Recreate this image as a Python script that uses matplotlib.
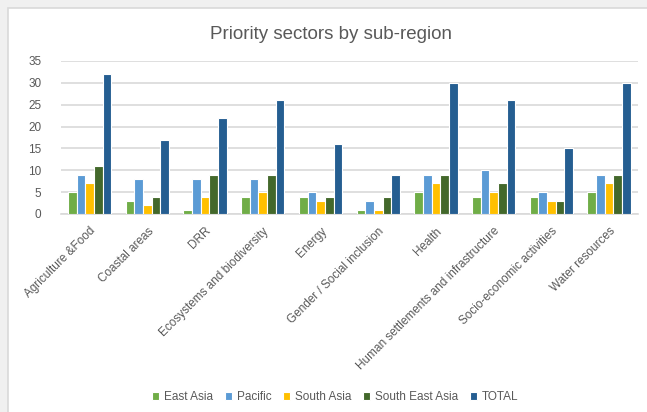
import numpy as np
import matplotlib
matplotlib.use("Agg")
import matplotlib.pyplot as plt
from matplotlib.patches import Rectangle

plt.rcParams["font.family"] = ["Liberation Sans", "DejaVu Sans"]

# Data
sectors = [
    "Agriculture &Food",
    "Coastal areas",
    "DRR",
    "Ecosystems and biodiversity",
    "Energy",
    "Gender / Social inclusion",
    "Health",
    "Human settlements and infrastructure",
    "Socio-economic activities",
    "Water resources",
]
east_asia = [5, 3, 1, 4, 4, 1, 5, 4, 4, 5]
pacific = [9, 8, 8, 8, 5, 3, 9, 10, 5, 9]
south_asia = [7, 2, 4, 5, 3, 1, 7, 5, 3, 7]
south_east_asia = [11, 4, 9, 9, 4, 4, 9, 7, 3, 9]
total = [32, 17, 22, 26, 16, 9, 30, 26, 15, 30]

series_names = ["East Asia", "Pacific", "South Asia", "South East Asia", "TOTAL"]
series_values = [east_asia, pacific, south_asia, south_east_asia, total]
colors = ["#70AD47", "#5B9BD5", "#FFC000", "#43682B", "#255E91"]

text_col = "#595959"

fig = plt.figure(figsize=(6.47, 4.12), dpi=100)
fig.patch.set_facecolor("#f0f0f0")
# white card behind everything
bg = fig.add_axes([0, 0, 1, 1], zorder=-5)
bg.set_xlim(0, 647)
bg.set_ylim(412, 0)
bg.axis("off")
bg.add_patch(Rectangle((8, 8), 660, 420, facecolor="white", edgecolor="#d9d9d9", linewidth=1.2))

ax = fig.add_axes([0.094, 0.4806, 0.892, 0.3714], zorder=1)
ax.patch.set_alpha(0)

x = np.arange(len(sectors))
bw = 0.15
for i, (name, vals, c) in enumerate(zip(series_names, series_values, colors)):
    ax.bar(x + (i - 2) * bw, vals, width=bw, color=c, edgecolor="white",
           linewidth=0.8, label=name, zorder=3)

ax.set_ylim(0, 35)
ax.set_yticks(range(0, 36, 5))
ax.set_xlim(-0.5, len(sectors) - 0.5)
ax.grid(axis="y", color="#d9d9d9", linewidth=1.2, zorder=0)
ax.set_axisbelow(True)
for s in ["top", "right", "left"]:
    ax.spines[s].set_visible(False)
ax.spines["bottom"].set_color("#d9d9d9")
ax.spines["bottom"].set_linewidth(1.2)
ax.tick_params(axis="both", length=0, labelsize=8.5, colors=text_col)
ax.tick_params(axis="y", pad=14)
ax.tick_params(axis="x", pad=8)
ax.set_xticks(x)
ax.set_xticklabels(sectors, rotation=45, ha="right", rotation_mode="anchor")

fig.text(0.512, 1 - 39 / 412, "Priority sectors by sub-region", ha="center", va="baseline",
         fontsize=13.5, color=text_col)

leg = fig.legend(loc="center", bbox_to_anchor=(0.518, 0.036), ncol=5, frameon=False,
                 fontsize=8.5, handlelength=0.6, handleheight=0.6, handletextpad=0.4,
                 columnspacing=1.0)
for t in leg.get_texts():
    t.set_color(text_col)

fig.savefig("out.png", dpi=100, facecolor=fig.get_facecolor())
